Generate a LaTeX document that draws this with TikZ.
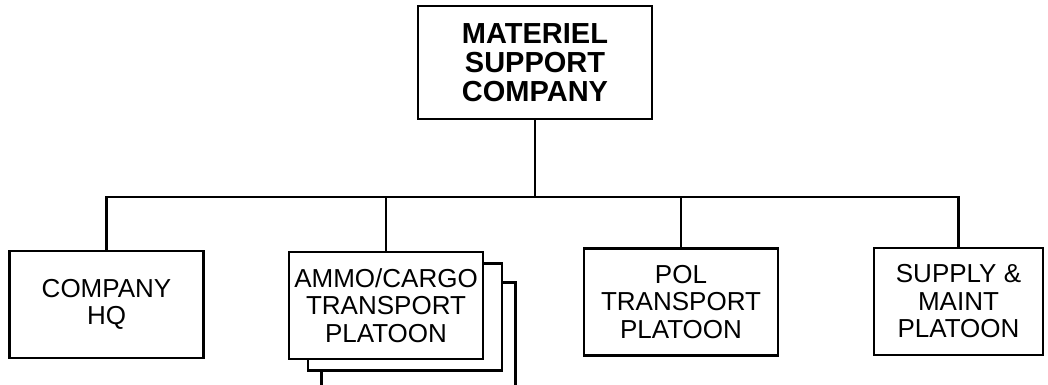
\documentclass[tikz,border=0pt]{standalone}
\usepackage{fontspec}
\setmainfont{Liberation Sans}
\usepackage{tikz}
\usetikzlibrary{positioning, calc}
\tikzset{
	orgnode/.style={
			rectangle,
			draw=black,
			line width=2.4pt,
			fill=white,
			minimum width=194pt,
			minimum height=107pt,
			inner sep=0pt,
			align=center,
			font=\fontsize{26}{27.5}\selectfont
		},
	topnode/.style={
			orgnode,
			minimum width=234pt,
			minimum height=113pt,
			font=\fontsize{29}{29}\selectfont\bfseries
		},
	backnode/.style={
			orgnode
		},
	orgline/.style={
			draw=black,
			line width=2.4pt
		}
}
\begin{document}
\begin{tikzpicture}[x=1pt, y=1pt]
\useasboundingbox (0,0) rectangle (1048,-384);
\clip (0,0) rectangle (1048,-384);

\node[topnode] (msc) at (535,-62.5) {MATERIEL\\SUPPORT\\COMPANY};

\node[orgnode] (hq) at (106.5,-304.5) {COMPANY\\HQ};
\node[backnode] (ammo3) at (418.5,-336) {};
\node[backnode] (ammo2) at (405,-317) {};
\node[orgnode] (ammo) at (386,-305.5) {AMMO/CARGO\\TRANSPORT\\PLATOON};
\node[orgnode] (pol) at (681,-302) {POL\\TRANSPORT\\PLATOON};
\node[orgnode, minimum width=169pt] (sup) at (958.5,-301.5) {SUPPLY \&\\MAINT\\PLATOON};

\coordinate (bus) at (0,-197);
\draw[orgline] (msc.south) -- (msc.south |- bus);
\draw[orgline] (hq.north) -- (hq.north |- bus) -- (sup.north |- bus) -- (sup.north);
\draw[orgline] (ammo.north) -- (ammo.north |- bus);
\draw[orgline] (pol.north) -- (pol.north |- bus);
\end{tikzpicture}
\end{document}
